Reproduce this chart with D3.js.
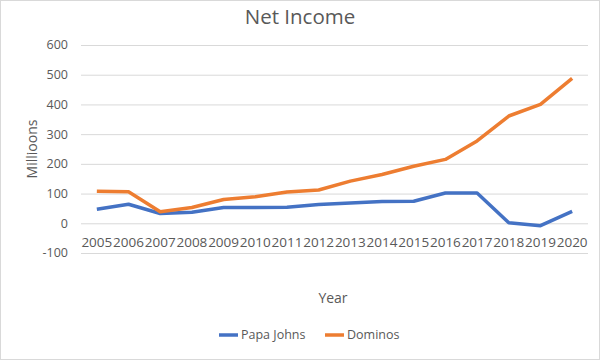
<!DOCTYPE html>
<html>
<head>
<meta charset="utf-8">
<script src="https://cdn.jsdelivr.net/npm/d3@7"></script>
<style>
  body { margin: 0; background: #fff; }
  text { font-family: "Open Sans", "Liberation Sans", sans-serif; fill: #595959; }
</style>
</head>
<body>
<div id="chart"></div>
<script>
const years = ['2005','2006','2007','2008','2009','2010','2011','2012','2013','2014','2015','2016','2017','2018','2019','2020'];
const papaJohns = [47, 64, 33, 37, 53, 53, 54, 63, 68, 73, 74, 102, 102, 2, -8, 40];
const dominos = [108, 106, 39, 53, 80, 89, 105, 112, 142, 164, 192, 215, 277, 361, 400, 488];
const yTicks = [-100, 0, 100, 200, 300, 400, 500, 600];
const seriesNames = ['Papa Johns', 'Dominos'];
const colors = ['#4472C4', '#ED7D31'];

const width = 600;
const height = 360;

const svg = d3.select('#chart')
  .append('svg')
  .attr('width', width)
  .attr('height', height);

// chart border
svg.append('rect')
  .attr('x', 0.5).attr('y', 0.5)
  .attr('width', width - 1).attr('height', height - 1)
  .attr('fill', '#fff')
  .attr('stroke', '#d9d9d9');

const xScale = d3.scaleBand().domain(years).range([81, 588]);
const yScale = d3.scaleLinear().domain([-100, 600]).range([253, 45]);

// gridlines
svg.append('g')
  .attr('transform', 'translate(81,0)')
  .call(d3.axisLeft(yScale).tickValues(yTicks).tickFormat('').tickSize(-507))
  .call(g => g.select('.domain').remove())
  .call(g => g.selectAll('line').attr('stroke', '#d9d9d9'));

// y tick labels
svg.append('g')
  .selectAll('text')
  .data(yTicks)
  .join('text')
  .attr('x', 68)
  .attr('y', d => yScale(d))
  .attr('dy', '0.35em')
  .attr('text-anchor', 'end')
  .style('font-size', '12.5px')
  .text(d => d);

// x tick labels, sitting under the zero line
svg.append('g')
  .selectAll('text')
  .data(years)
  .join('text')
  .attr('x', d => xScale(d) + xScale.bandwidth() / 2)
  .attr('y', yScale(0) + 24)
  .attr('text-anchor', 'middle')
  .style('font-size', '13.5px')
  .text(d => d);

const line = d3.line()
  .x((d, i) => xScale(years[i]) + xScale.bandwidth() / 2)
  .y(d => yScale(d));

[papaJohns, dominos].forEach((vals, i) => {
  svg.append('path')
    .datum(vals)
    .attr('d', line)
    .attr('fill', 'none')
    .attr('stroke', colors[i])
    .attr('stroke-width', 3.5)
    .attr('stroke-linejoin', 'round');
});

// title
svg.append('text')
  .attr('x', 300).attr('y', 24)
  .attr('text-anchor', 'middle')
  .style('font-size', '20.5px')
  .text('Net Income');

// axis titles
svg.append('text')
  .attr('transform', 'translate(37,149) rotate(-90)')
  .attr('text-anchor', 'middle')
  .style('font-size', '14px')
  .text('Millioons');

svg.append('text')
  .attr('x', 333).attr('y', 303)
  .attr('text-anchor', 'middle')
  .style('font-size', '14px')
  .text('Year');

// legend
const legendX = [219, 325];
const legend = svg.append('g')
  .selectAll('g')
  .data(seriesNames)
  .join('g')
  .attr('transform', (d, i) => `translate(${legendX[i]},335)`);

legend.append('line')
  .attr('x1', 0).attr('x2', 19)
  .attr('stroke', (d, i) => colors[i])
  .attr('stroke-width', 3.5);

legend.append('text')
  .attr('x', 22)
  .attr('dy', '0.35em')
  .style('font-size', '12.5px')
  .text(d => d);
</script>
</body>
</html>
